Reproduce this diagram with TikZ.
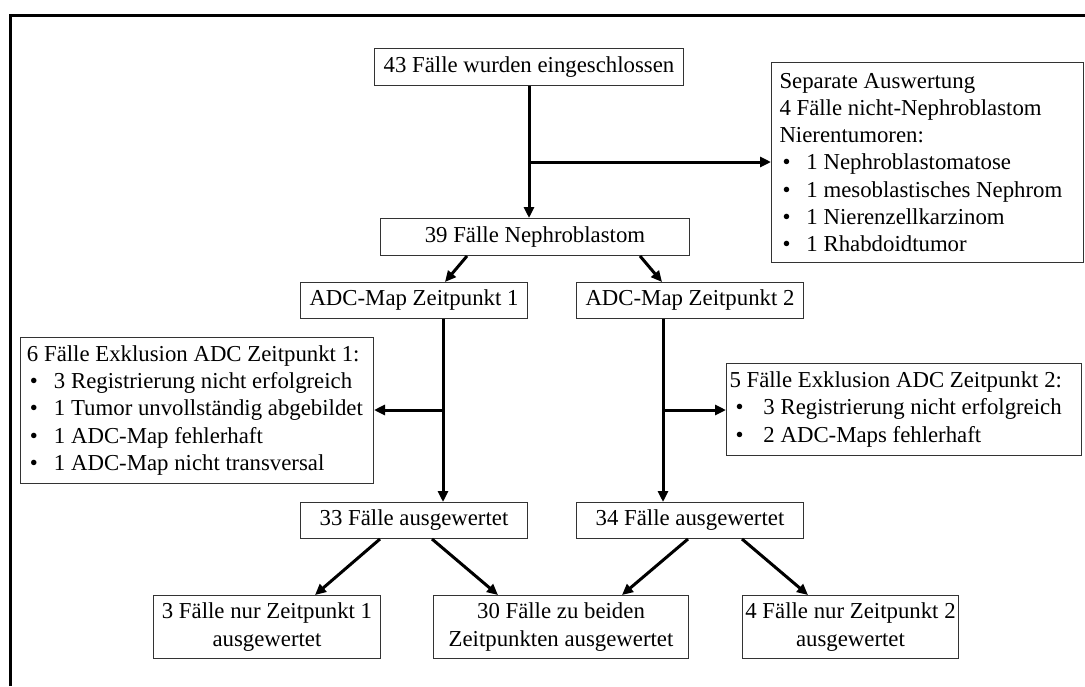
\documentclass[tikz,border=0pt]{standalone}
\usepackage{fontspec}
\setmainfont{Liberation Serif}
\usetikzlibrary{arrows.meta,calc}
\newcommand{\bul}[1]{\hspace*{3pt}\makebox[24pt][l]{•}#1}
\newcommand{\bulb}[1]{\hspace*{6pt}\makebox[28pt][l]{•}#1}
\tikzset{
  box/.style={draw=black!80, line width=1pt, rectangle, anchor=north west,
    font=\fontsize{22.8}{27.2}\selectfont, inner sep=2pt},
  lbox/.style={box, align=flush left, inner ysep=2pt},
  cbox/.style={box, align=center},
  arr/.style={line width=3pt, -{Triangle[length=11pt,width=10pt]}}
}
\begin{document}
\begin{tikzpicture}[x=1pt,y=-1pt]
\useasboundingbox (0,0) rectangle (1085,686);
\draw[line width=3pt] (10,686) -- (10,15) -- (1085,15);

\node[cbox, minimum width=309pt, minimum height=37pt] (top) at (374,48) {43 Fälle wurden eingeschlossen};
\node[lbox, inner xsep=8pt, text width=296pt, minimum height=200pt] (sep) at (771,62)
  {Separate Auswertung\\4 Fälle nicht-Nephroblastom\\Nierentumoren:\\
   \bul{1 Nephroblastomatose}\\\bul{1 mesoblastisches Nephrom}\\
   \bul{1 Nierenzellkarzinom}\\\bul{1 Rhabdoidtumor}};
\node[cbox, minimum width=309pt, minimum height=37pt] (n39) at (380,218) {39 Fälle Nephroblastom};
\node[cbox, minimum width=227pt, minimum height=36pt] (adc1) at (300,282) {ADC-Map Zeitpunkt 1};
\node[cbox, minimum width=227pt, minimum height=36pt] (adc2) at (576,282) {ADC-Map Zeitpunkt 2};
\node[lbox, inner xsep=6.5pt, text width=340pt, minimum height=146pt] (ex1) at (20,337)
  {6 Fälle Exklusion ADC Zeitpunkt 1:\\\bul{3 Registrierung nicht erfolgreich}\\
   \bul{1 Tumor unvollständig abgebildet}\\\bul{1 ADC-Map fehlerhaft}\\
   \bul{1 ADC-Map nicht transversal}};
\node[lbox, inner xsep=3pt, text width=349pt, minimum height=92pt] (ex2) at (726,363)
  {5 Fälle Exklusion ADC Zeitpunkt 2:\\\bulb{3 Registrierung nicht erfolgreich}\\
   \bulb{2 ADC-Maps fehlerhaft}};
\node[cbox, minimum width=227pt, minimum height=36pt] (a33) at (300,502) {33 Fälle ausgewertet};
\node[cbox, minimum width=227pt, minimum height=36pt] (a34) at (576,502) {34 Fälle ausgewertet};
\node[cbox, minimum width=227pt, minimum height=63pt] (r1) at (153,595) {3 Fälle nur Zeitpunkt 1\\ausgewertet};
\node[cbox, minimum width=255pt, minimum height=63pt] (r12) at (433,595) {30 Fälle zu beiden\\Zeitpunkten ausgewertet};
\node[cbox, minimum width=216pt, minimum height=63pt] (r2) at (742,595) {4 Fälle nur Zeitpunkt 2\\ausgewertet};

% top
\draw[arr] ([xshift=155pt]top.south west) -- ([xshift=155pt]top.south west |- n39.north);
\coordinate (b0) at (529,162);
\draw[arr] (b0) -- (b0 -| sep.west);
% 39 -> ADC
\draw[arr] ([xshift=87pt]n39.south west) -- ([xshift=145pt]adc1.north west);
\draw[arr] ([xshift=260pt]n39.south west) -- ([xshift=86pt]adc2.north west);
% ADC1 -> 33
\draw[arr] ([xshift=143pt]adc1.south west) -- ([xshift=143pt]a33.north west);
\coordinate (b1) at (443,410);
\draw[arr] (b1) -- (b1 -| ex1.east);
% ADC2 -> 34
\draw[arr] ([xshift=87pt]adc2.south west) -- ([xshift=87pt]a34.north west);
\coordinate (b2) at (663,410);
\draw[arr] (b2) -- (b2 -| ex2.west);
% bottom
\draw[arr] ([xshift=80pt]a33.south west) -- ([xshift=162pt]r1.north west);
\draw[arr] ([xshift=132pt]a33.south west) -- ([xshift=65pt]r12.north west);
\draw[arr] ([xshift=112pt]a34.south west) -- ([xshift=189pt]r12.north west);
\draw[arr] ([xshift=166pt]a34.south west) -- ([xshift=66pt]r2.north west);
\end{tikzpicture}
\end{document}
